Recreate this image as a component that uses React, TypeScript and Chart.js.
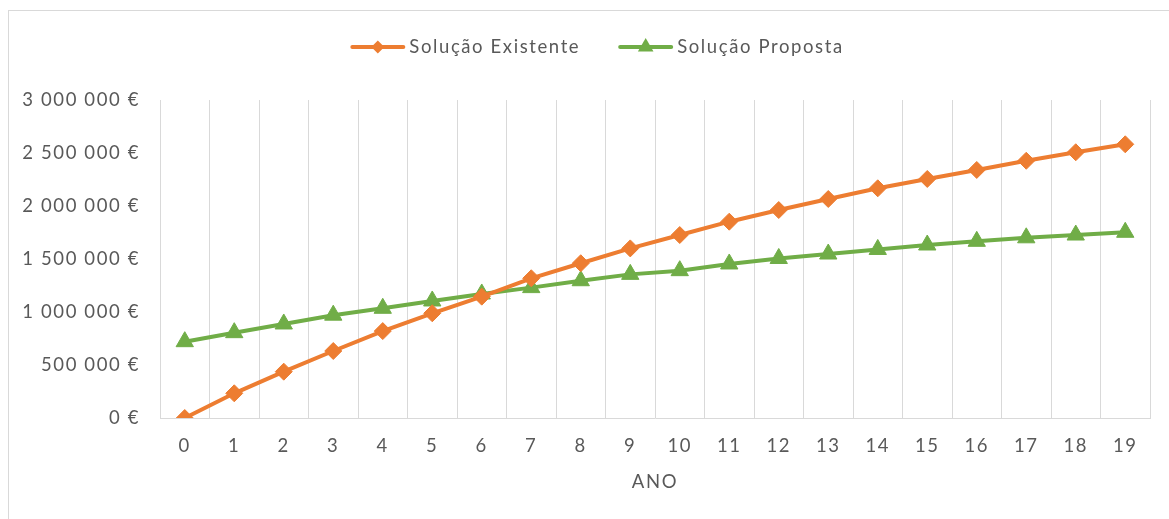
import React, { useEffect, useRef } from 'react';
import { Chart, registerables } from 'chart.js';

Chart.register(...registerables);

const anos = ['0', '1', '2', '3', '4', '5', '6', '7', '8', '9', '10', '11', '12', '13', '14', '15', '16', '17', '18', '19'];
const solucaoExistente = [0, 233000, 437000, 632000, 820000, 988000, 1145000, 1318000, 1460000, 1600000, 1726000, 1852000, 1962000, 2066000, 2167000, 2255000, 2340000, 2427000, 2507000, 2582000];
const solucaoProposta = [720000, 805000, 887000, 970000, 1035000, 1104000, 1170000, 1230000, 1295000, 1355000, 1390000, 1453000, 1505000, 1547000, 1590000, 1632000, 1667000, 1700000, 1726000, 1752000];
const serieNomes = ['Solução Existente', 'Solução Proposta'];
const eixoX = 'ANO';
const yMin = 0;
const yMax = 3000000;
const yStep = 500000;

const ORANGE = '#ED7D31';
const GREEN = '#70AD47';
const TEXT = '#595959';
const GRID = '#d9d9d9';
const FONT = 'Lato';
const LS = '1.6px';

const fmtEuro = (v: number) => String(Math.round(v)).replace(/\B(?=(\d{3})+(?!\d))/g, ' ') + ' €';

function drawMarker(ctx: CanvasRenderingContext2D, style: string, x: number, y: number, r: number, color: string) {
  ctx.beginPath();
  if (style === 'rectRot') {
    ctx.moveTo(x, y - r);
    ctx.lineTo(x + r, y);
    ctx.lineTo(x, y + r);
    ctx.lineTo(x - r, y);
  } else {
    const h = r * Math.sqrt(3) / 2;
    ctx.moveTo(x, y - r);
    ctx.lineTo(x + h, y + r / 2);
    ctx.lineTo(x - h, y + r / 2);
  }
  ctx.closePath();
  ctx.fillStyle = color;
  ctx.fill();
}

const spacingPlugin = {
  id: 'letterSpacing',
  beforeUpdate(chart: any) { (chart.ctx as any).letterSpacing = LS; },
  beforeLayout(chart: any) { (chart.ctx as any).letterSpacing = LS; },
  beforeDraw(chart: any) { (chart.ctx as any).letterSpacing = LS; },
};

const legendPlugin = {
  id: 'excelLegend',
  afterDraw(chart: any) {
    const ctx: CanvasRenderingContext2D = chart.ctx;
    ctx.save();
    (ctx as any).letterSpacing = LS;
    ctx.font = `18.5px ${FONT}`;
    ctx.textBaseline = 'middle';
    ctx.textAlign = 'left';
    const y = 36;
    const lineLen = 55;
    const gapText = 4;
    const gapItems = 38;
    const items = chart.data.datasets.map((ds: any) => ({ ds, w: ctx.measureText(ds.label).width }));
    const total = items.reduce((s: number, it: any) => s + lineLen + gapText + it.w, 0) + gapItems * (items.length - 1);
    let x = chart.width / 2 + 8 - total / 2;
    for (const it of items) {
      const ds = it.ds;
      ctx.strokeStyle = ds.borderColor;
      ctx.lineWidth = 4;
      ctx.lineCap = 'round';
      ctx.beginPath();
      ctx.moveTo(x + 2, y);
      ctx.lineTo(x + lineLen - 2, y);
      ctx.stroke();
      drawMarker(ctx, ds.pointStyle, x + lineLen / 2, y, ds.pointStyle === 'rectRot' ? 6.5 : 9, ds.borderColor);
      ctx.fillStyle = TEXT;
      ctx.fillText(ds.label, x + lineLen + gapText, y);
      x += lineLen + gapText + it.w + gapItems;
    }
    ctx.restore();
  },
};

export default function App() {
  const canvasRef = useRef<HTMLCanvasElement | null>(null);

  useEffect(() => {
    if (!canvasRef.current) return;
    const chart = new Chart(canvasRef.current, {
      type: 'line',
      data: {
        labels: anos,
        datasets: [
          {
            label: serieNomes[0],
            data: solucaoExistente,
            borderColor: ORANGE,
            backgroundColor: ORANGE,
            borderWidth: 4,
            pointStyle: 'rectRot',
            pointRadius: 8.5,
            pointBorderWidth: 1,
            pointBackgroundColor: ORANGE,
            pointBorderColor: ORANGE,
            tension: 0,
          },
          {
            label: serieNomes[1],
            data: solucaoProposta,
            borderColor: GREEN,
            backgroundColor: GREEN,
            borderWidth: 4,
            pointStyle: 'triangle',
            pointRadius: 10,
            pointBorderWidth: 1,
            pointBackgroundColor: GREEN,
            pointBorderColor: GREEN,
            tension: 0,
          },
        ],
      },
      options: {
        animation: false,
        responsive: true,
        maintainAspectRatio: false,
        layout: { padding: { top: 89, right: 19, bottom: 0, left: 0 } },
        plugins: {
          legend: { display: false },
          tooltip: { enabled: false },
        },
        scales: {
          x: {
            type: 'category',
            offset: true,
            grid: { display: true, offset: true, color: GRID, lineWidth: 1, drawTicks: false },
            border: { display: true, color: GRID, width: 1 },
            ticks: { color: TEXT, font: { family: FONT, size: 18.5 }, padding: 17, maxRotation: 0, autoSkip: false },
            title: { display: true, text: eixoX, color: TEXT, font: { family: FONT, size: 18.5 }, padding: { top: 10, bottom: 26 } },
            afterFit: (scale: any) => { scale.height = 101; },
          },
          y: {
            min: yMin,
            max: yMax,
            grid: { display: false, drawTicks: false },
            border: { display: false },
            ticks: { stepSize: yStep, color: TEXT, font: { family: FONT, size: 18.5 }, padding: 20, callback: (v: any) => fmtEuro(Number(v)) },
            afterFit: (scale: any) => { scale.width = 151; },
          },
        },
      },
      plugins: [spacingPlugin, legendPlugin],
    });
    return () => chart.destroy();
  }, []);

  return (
    <div
      style={{
        position: 'fixed',
        left: 8,
        top: 10,
        width: 1180,
        height: 530,
        border: `1px solid ${GRID}`,
        boxSizing: 'border-box',
        background: '#fff',
        overflow: 'hidden',
      }}
    >
      <div style={{ position: 'absolute', left: 0, top: 0, width: 1160, height: 508 }}>
        <canvas ref={canvasRef} />
      </div>
    </div>
  );
}
